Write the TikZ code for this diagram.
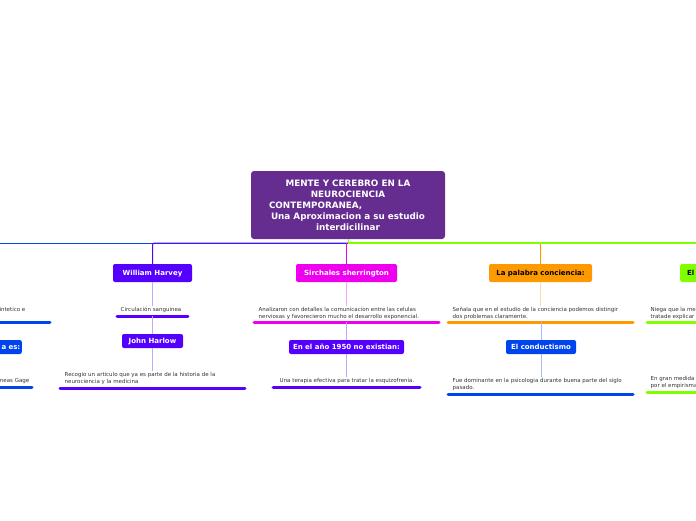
\documentclass[tikz,border=0pt]{standalone}
\usepackage{fontspec}
\setmainfont{DejaVu Sans}
\setsansfont{DejaVu Sans}

\definecolor{cMain}{HTML}{662D91}
\definecolor{cViolet}{HTML}{5500FF}
\definecolor{cMagenta}{HTML}{EE00EE}
\definecolor{cOrange}{HTML}{FF9900}
\definecolor{cBlue}{HTML}{0044EE}
\definecolor{cGreen}{HTML}{80FF00}
\definecolor{cNote}{HTML}{333333}

\tikzset{
  topic/.style={rounded corners=2pt, inner sep=0pt, text=white,
    font=\bfseries\fontsize{7}{8}\selectfont, minimum height=18pt,
    text height=5pt, text depth=0pt},
  subtopic/.style={topic, minimum height=14pt},
  note/.style={inner sep=1.5pt, text=cNote, align=left,
    font=\fontsize{5.5}{6.8}\selectfont},
  uline/.style={line width=3pt, line cap=round},
  link/.style={line width=0.8pt},
  branch/.style={line width=1pt, rounded corners=2pt}
}

\begin{document}
\begin{tikzpicture}[x=1pt,y=-1pt]
\useasboundingbox (0,0) rectangle (696,520);
\clip (0,0) rectangle (696,520);

% central topic
\node[rounded corners=3pt, fill=cMain, text=white, align=center,
  minimum width=194pt, minimum height=68pt, inner sep=0pt,
  font=\bfseries\fontsize{8.8}{11}\selectfont] (main) at (348,205)
  {MENTE Y CEREBRO EN LA\\NEUROCIENCIA\\\makebox[158pt][l]{CONTEMPORANEA,}\\
   Una Aproximacion a su estudio\\interdicilinar};
\coordinate (hub) at (348,243);
\coordinate (farleft) at (-5,243);
\coordinate (farright) at (701,243);

% main branches
\node[topic, fill=cViolet, minimum width=79pt] (harvey) at (152.5,273) {William Harvey};
\node[topic, fill=cMagenta, minimum width=101pt] (sherr) at (346.5,273) {Sirchales sherrington};
\node[topic, fill=cOrange, text=black, minimum width=103pt] (palabra) at (540.5,273) {La palabra conciencia:};
\node[topic, fill=cGreen, text=black, minimum width=90pt, anchor=west, text width=80pt,
  align=left] (niega) at (680,273) {\hspace{2pt}El};

\draw[branch, cBlue] (hub) -- (farleft);
\draw[branch, cViolet] (hub) -| (harvey.north);
\draw[branch, cOrange] (hub) -| (palabra.north);
\draw[branch, cGreen, line width=1.3pt] (hub) -- (farright);
\draw[branch, cMagenta] (sherr.north |- hub) -- (sherr.north);
\draw[branch, cGreen] (main.south -| hub) -- (hub);

% William Harvey
\node[note, anchor=north] (circ) at (151,305.5) {Circulación sanguinea};
\draw[uline, cViolet] (117,316) -- (188,316) coordinate[pos=0.5] (u1);
\node[subtopic, fill=cViolet, minimum width=61pt] (harlow) at (152.5,341) {John Harlow};
\node[note, anchor=north west] (recogio) at (63,370.5)
  {Recogio un articulo que ya es parte de la historia de la\\neurociencia y la medicina};
\draw[uline, cViolet] (60,388) -- (245,388);
\draw[link, cViolet!35] (harvey.south) -- (circ.north -| harvey);
\draw[link, cViolet!35] (u1 -| harvey) -- (harlow.north);
\draw[link, cViolet!35] (harlow.south) -- (recogio.north -| harlow);

% Sirchales sherrington
\node[note, anchor=north west] (analiz) at (257,305.5)
  {Analizaron con detalles la comunicacion entre las celulas\\nerviosas y favorecieron mucho el desarrollo exponencial.};
\draw[uline, cMagenta] (254,322) -- (439,322) coordinate[pos=0.5] (u2);
\node[subtopic, fill=cViolet, minimum width=115pt] (anio) at (346.5,347) {En el año 1950 no existian:};
\node[note, anchor=north] (terapia) at (347,376.5) {Una terapia efectiva para tratar la esquizofrenia.};
\draw[uline, cViolet] (273,387) -- (420,387);
\draw[link, cMagenta!35] (sherr.south) -- (analiz.north -| sherr);
\draw[link, cViolet!35] (u2 -| anio) -- (anio.north);
\draw[link, cViolet!35] (anio.south) -- (terapia.north -| anio);

% La palabra conciencia
\node[note, anchor=north west] (senala) at (451,305.5)
  {Señala que en el estudio de la conciencia podemos distingir\\dos problemas claramente.};
\draw[uline, cOrange] (448,322) -- (633,322);
\node[subtopic, fill=cBlue, minimum width=70pt] (conduct) at (541,347) {El conductismo};
\node[note, anchor=north west] (fue) at (451,376.5)
  {Fue dominante en la psicologia durante buena parte del siglo\\pasado.};
\draw[uline, cBlue] (448,394) -- (633,394);
\draw[link, cOrange!35] (palabra.south) -- (senala.north -| palabra);
\draw[link, cBlue!35] (conduct |- 0,322) -- (conduct.north);
\draw[link, cBlue!35] (conduct.south) -- (fue.north -| conduct);

% right branch (cut by the edge)
\node[note, anchor=north west] (megamente) at (649,305.5) {Niega que la me\\tratade explicar};
\draw[uline, cGreen] (647,322) -- (705,322);
\node[note, anchor=north west] (empir) at (649,374.5) {En gran medida\\por el empirisma};
\draw[uline, cGreen] (647,392) -- (705,392);

% left branch (cut by the edge)
\node[note, anchor=north east] (sintet) at (27,305.5) {intetico e};
\draw[uline, cBlue] (-5,322) -- (50,322);
\node[subtopic, fill=cBlue, minimum width=60pt, anchor=east, align=right,
  text width=57pt] (esnode) at (22,347) {a es:};
\node[note, anchor=north east] (gage) at (31,376.5) {neas Gage};
\draw[uline, cBlue] (-5,387) -- (32,387);
\end{tikzpicture}
\end{document}
